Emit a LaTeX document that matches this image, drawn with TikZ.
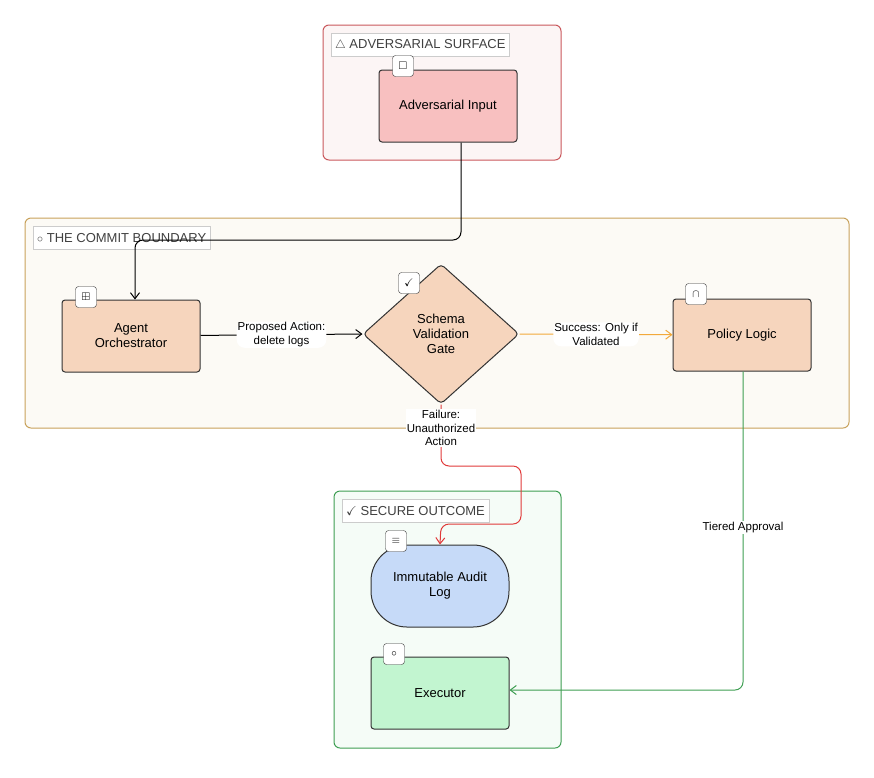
\documentclass[tikz,border=0pt]{standalone}
\usepackage{amssymb}
\usepackage{fontspec}
\setmainfont{Liberation Sans}
\usetikzlibrary{arrows.meta,shapes.geometric,positioning,calc}
\definecolor{advred}{HTML}{C9585C}
\definecolor{advfill}{HTML}{FCF5F5}
\definecolor{inred}{HTML}{F8C0C0}
\definecolor{gold}{HTML}{C8A15A}
\definecolor{goldfill}{HTML}{FCFAF5}
\definecolor{peach}{HTML}{F6D5BD}
\definecolor{grn}{HTML}{3E9E52}
\definecolor{grnfill}{HTML}{F5FCF7}
\definecolor{blu}{HTML}{C6DAF8}
\definecolor{mint}{HTML}{C2F5D0}
\definecolor{orng}{HTML}{F2A93B}
\definecolor{redl}{HTML}{E03A3A}
\tikzset{
	zone/.style={draw,rounded corners=6pt,line width=1pt},
	zonelabel/.style={draw=black!20,fill=white,anchor=north west,inner sep=4pt,text=black!75,font=\fontsize{13}{13}\selectfont,minimum height=23pt},
	proc/.style={draw=black!80,line width=1pt,rounded corners=3pt,minimum width=138pt,minimum height=72pt,align=center,font=\fontsize{13}{15}\selectfont},
	icon/.style={draw=black!80,fill=white,rounded corners=3pt,minimum size=21pt,inner sep=0pt,font=\fontsize{11}{11}\selectfont},
	conn/.style={line width=1pt,rounded corners=8pt,-{Straight Barb[length=6pt,width=9pt]}},
	elabel/.style={fill=white,text=black,align=center,inner sep=1pt,font=\fontsize{11.5}{13.5}\selectfont}
}
\begin{document}
\begin{tikzpicture}[x=1pt,y=-1pt]
	\useasboundingbox (0,0) rectangle (874,777);
	%%% zones
	\draw[zone,draw=advred,fill=advfill] (323,25) rectangle (561,160);
	\node[zonelabel] (advlab) at (331,33) {$\triangle$ ADVERSARIAL SURFACE};
	\draw[zone,draw=gold,fill=goldfill] (25,218) rectangle (849,428);
	\node[zonelabel] (comlab) at (33,226) {$\circ$ THE COMMIT BOUNDARY};
	\draw[zone,draw=grn,fill=grnfill] (334,491) rectangle (561,748);
	\node[zonelabel] (seclab) at (342,499) {$\checkmark$ SECURE OUTCOME};
	%%% nodes
	\node[proc,fill=inred] (input) at (448,106) {Adversarial Input};
	\node[proc,fill=peach] (agent) at (131,336) {Agent\\Orchestrator};
	\node[diamond,draw=black!80,line width=1pt,fill=peach,rounded corners=4pt,minimum width=156pt,minimum height=140pt,inner sep=0pt,align=center,font=\fontsize{13}{15}\selectfont] (gate) at (441,334) {Schema\\Validation\\Gate};
	\node[proc,fill=peach] (policy) at (742,335) {Policy Logic};
	\node[proc,fill=blu,rounded corners=36pt,minimum height=82pt] (audit) at (440,586) {Immutable Audit\\Log};
	\node[proc,fill=mint] (exec) at (440,693) {Executor};
	%%% icons
	\node[icon] (i1) at (403,66) {$\square$};
	\node[icon] (i2) at (86,297) {$\boxplus$};
	\node[icon] (i3) at (409,283) {$\checkmark$};
	\node[icon] (i4) at (696,294) {$\cap$};
	\node[icon] (i5) at (396,541) {$\equiv$};
	\node[icon] (i6) at (394,654) {$\circ$};
	%%% connectors
	\coordinate (c1) at (461,240);
	\coordinate (c2) at (135,240);
	\draw[conn,black] (input.south -| c1) -- (c1) -- (c2) -- (agent.north -| c2);
	\draw[conn,black] (agent) -- node[elabel] {Proposed Action:\\delete logs} (gate.west);
	\draw[conn,orng] (gate.east) -- node[elabel] {Success: Only if\\Validated} (policy);
	\coordinate (r1) at (441,466);
	\coordinate (r2) at (521,466);
	\coordinate (r3) at (521,524);
	\coordinate (r4) at (441,524);
	\draw[conn,redl] (gate.south) -- (r1) -- (r2) -- (r3) -- (r4) -- (audit.north);
	\node[elabel] (faillab) at (441,428) {Failure:\\Unauthorized\\Action};
	\coordinate (g1) at (743,690);
	\draw[conn,grn] (policy.south -| g1) -- node[elabel,pos=0.49] {Tiered Approval} (g1) -- (exec.east |- g1);
\end{tikzpicture}
\end{document}
